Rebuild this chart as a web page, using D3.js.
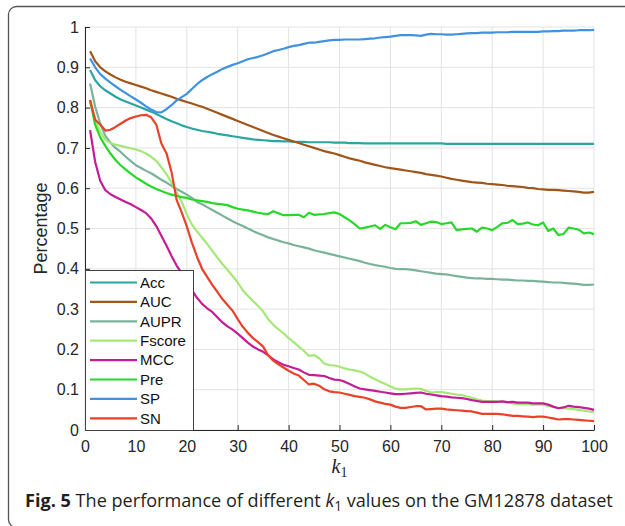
<!DOCTYPE html>
<html lang="en">
<head>
<meta charset="UTF-8">
<title>Performance of different k1 values on GM12878</title>
<script src="https://d3js.org/d3.v7.min.js"></script>
<style>
  body { margin: 0; background: #fff; }
  svg { display: block; }
  .tick text { font-family: "Liberation Sans", Arial, sans-serif; font-size: 16px; fill: #262626; }
  .axis path, .axis line { stroke: #262626; }
</style>
</head>
<body>
<div id="chart"></div>
<script>
// k1 runs from 1 to 100
const kValues = d3.range(1, 101);

const seriesNames = ["Acc", "AUC", "AUPR", "Fscore", "MCC", "Pre", "SP", "SN"];
const seriesColors = ["#2ca5a0", "#a0551a", "#7ab399", "#a6e878", "#c41c96", "#28d828", "#4191e1", "#eb4128"];

const acc = [0.893,0.868,0.853,0.843,0.835,0.827,0.820,0.815,0.810,0.805,
  0.800,0.795,0.790,0.784,0.778,0.772,0.766,0.761,0.756,0.752,
  0.748,0.745,0.742,0.740,0.738,0.735,0.733,0.731,0.729,0.727,
  0.725,0.723,0.721,0.720,0.719,0.718,0.717,0.717,0.716,0.716,
  0.715,0.715,0.715,0.714,0.714,0.714,0.714,0.714,0.713,0.713,
  0.713,0.712,0.712,0.712,0.711,0.711,0.711,0.711,0.711,0.711,
  0.711,0.711,0.711,0.711,0.711,0.711,0.711,0.711,0.711,0.711,
  0.710,0.710,0.710,0.710,0.710,0.710,0.710,0.710,0.710,0.710,
  0.710,0.710,0.710,0.710,0.710,0.710,0.710,0.710,0.710,0.710,
  0.710,0.710,0.710,0.710,0.710,0.710,0.710,0.710,0.710,0.710];

const auc = [0.940,0.915,0.900,0.890,0.882,0.875,0.869,0.864,0.860,0.856,
  0.852,0.848,0.843,0.839,0.835,0.831,0.827,0.822,0.818,0.814,
  0.810,0.806,0.802,0.797,0.792,0.787,0.782,0.777,0.772,0.767,
  0.762,0.757,0.752,0.747,0.742,0.737,0.732,0.728,0.724,0.720,
  0.716,0.712,0.708,0.704,0.700,0.696,0.692,0.689,0.686,0.682,
  0.678,0.674,0.671,0.668,0.664,0.661,0.658,0.655,0.652,0.650,
  0.648,0.646,0.644,0.642,0.640,0.638,0.635,0.633,0.631,0.629,
  0.626,0.623,0.621,0.619,0.617,0.615,0.614,0.613,0.611,0.610,
  0.609,0.608,0.606,0.605,0.604,0.603,0.601,0.600,0.598,0.597,
  0.596,0.596,0.595,0.594,0.593,0.592,0.591,0.589,0.589,0.591];

const aupr = [0.860,0.802,0.760,0.730,0.713,0.700,0.690,0.678,0.667,0.657,
  0.650,0.643,0.637,0.629,0.621,0.614,0.606,0.598,0.591,0.584,
  0.576,0.566,0.560,0.553,0.546,0.539,0.532,0.525,0.518,0.512,
  0.506,0.500,0.494,0.488,0.483,0.478,0.474,0.470,0.466,0.463,
  0.459,0.456,0.453,0.450,0.446,0.443,0.440,0.437,0.434,0.431,
  0.428,0.425,0.422,0.419,0.415,0.412,0.409,0.407,0.405,0.402,
  0.400,0.399,0.399,0.398,0.396,0.394,0.392,0.390,0.388,0.387,
  0.386,0.384,0.382,0.380,0.378,0.377,0.376,0.376,0.375,0.375,
  0.374,0.373,0.373,0.372,0.371,0.371,0.370,0.370,0.369,0.368,
  0.367,0.366,0.366,0.365,0.364,0.363,0.362,0.360,0.360,0.361];

const fscore = [0.812,0.770,0.740,0.720,0.712,0.708,0.705,0.702,0.699,0.696,
  0.692,0.686,0.678,0.668,0.652,0.635,0.614,0.590,0.566,0.535,
  0.510,0.493,0.477,0.462,0.445,0.428,0.412,0.397,0.382,0.366,
  0.347,0.333,0.320,0.308,0.294,0.275,0.261,0.250,0.240,0.228,
  0.218,0.207,0.196,0.184,0.186,0.178,0.165,0.161,0.160,0.157,
  0.153,0.150,0.148,0.145,0.140,0.132,0.126,0.120,0.114,0.108,
  0.103,0.101,0.101,0.102,0.103,0.102,0.097,0.093,0.094,0.094,
  0.092,0.090,0.088,0.087,0.083,0.080,0.076,0.073,0.072,0.072,
  0.071,0.070,0.068,0.066,0.064,0.064,0.064,0.063,0.063,0.063,
  0.060,0.057,0.055,0.054,0.053,0.052,0.050,0.048,0.046,0.044];

const mcc = [0.744,0.665,0.618,0.595,0.585,0.578,0.572,0.566,0.560,0.553,
  0.546,0.538,0.525,0.506,0.482,0.458,0.432,0.408,0.389,0.370,
  0.347,0.328,0.313,0.302,0.293,0.280,0.267,0.257,0.249,0.239,
  0.228,0.217,0.207,0.200,0.194,0.185,0.175,0.168,0.162,0.158,
  0.154,0.150,0.143,0.137,0.136,0.135,0.134,0.129,0.125,0.124,
  0.120,0.114,0.108,0.103,0.101,0.099,0.097,0.095,0.093,0.091,
  0.089,0.089,0.090,0.091,0.092,0.093,0.090,0.088,0.086,0.084,
  0.083,0.081,0.080,0.079,0.077,0.074,0.072,0.070,0.070,0.070,
  0.070,0.071,0.069,0.070,0.068,0.068,0.068,0.066,0.066,0.066,
  0.063,0.058,0.054,0.056,0.060,0.058,0.057,0.055,0.053,0.050];

const pre = [0.819,0.757,0.726,0.705,0.686,0.670,0.657,0.646,0.636,0.627,
  0.619,0.611,0.604,0.598,0.593,0.588,0.584,0.581,0.578,0.576,
  0.572,0.570,0.568,0.566,0.563,0.561,0.560,0.558,0.553,0.549,
  0.547,0.545,0.542,0.539,0.537,0.536,0.543,0.538,0.533,0.533,
  0.534,0.534,0.528,0.539,0.534,0.535,0.536,0.538,0.540,0.536,
  0.528,0.520,0.510,0.500,0.502,0.505,0.508,0.499,0.509,0.503,
  0.498,0.513,0.513,0.514,0.518,0.509,0.513,0.517,0.516,0.511,
  0.513,0.515,0.496,0.498,0.499,0.500,0.492,0.502,0.500,0.496,
  0.504,0.513,0.514,0.521,0.511,0.512,0.515,0.510,0.508,0.515,
  0.494,0.500,0.484,0.486,0.502,0.500,0.497,0.488,0.490,0.486];

const sp = [0.922,0.900,0.883,0.872,0.862,0.853,0.844,0.836,0.828,0.820,
  0.812,0.803,0.795,0.789,0.788,0.796,0.806,0.818,0.826,0.834,
  0.846,0.858,0.868,0.876,0.883,0.889,0.896,0.901,0.906,0.910,
  0.915,0.920,0.923,0.926,0.930,0.935,0.940,0.943,0.946,0.950,
  0.953,0.955,0.958,0.961,0.961,0.963,0.965,0.967,0.968,0.968,
  0.969,0.969,0.969,0.969,0.970,0.971,0.972,0.974,0.975,0.976,
  0.978,0.980,0.980,0.980,0.979,0.978,0.981,0.983,0.982,0.982,
  0.981,0.981,0.982,0.983,0.984,0.985,0.985,0.986,0.986,0.986,
  0.987,0.987,0.987,0.988,0.988,0.988,0.988,0.988,0.988,0.989,
  0.989,0.990,0.990,0.991,0.991,0.991,0.992,0.992,0.992,0.993];

const sn = [0.819,0.770,0.758,0.743,0.745,0.752,0.760,0.768,0.774,0.778,
  0.781,0.782,0.776,0.758,0.711,0.687,0.640,0.571,0.540,0.505,
  0.465,0.430,0.400,0.380,0.360,0.343,0.325,0.310,0.296,0.275,
  0.256,0.241,0.228,0.218,0.207,0.185,0.172,0.163,0.155,0.147,
  0.140,0.135,0.124,0.113,0.115,0.110,0.101,0.096,0.094,0.093,
  0.090,0.087,0.084,0.082,0.080,0.076,0.071,0.068,0.065,0.063,
  0.058,0.055,0.055,0.057,0.059,0.059,0.051,0.052,0.053,0.053,
  0.051,0.050,0.049,0.048,0.047,0.046,0.043,0.040,0.040,0.040,
  0.040,0.039,0.037,0.035,0.035,0.034,0.033,0.032,0.033,0.033,
  0.031,0.029,0.026,0.027,0.027,0.026,0.025,0.024,0.023,0.022];

const xTicks = [0, 10, 20, 30, 40, 50, 60, 70, 80, 90, 100];
const yTicks = [0, 0.1, 0.2, 0.3, 0.4, 0.5, 0.6, 0.7, 0.8, 0.9, 1];

const seriesValues = [acc, auc, aupr, fscore, mcc, pre, sp, sn];
const series = seriesNames.map((name, i) => ({ name, color: seriesColors[i], values: seriesValues[i] }));

const W = 625, H = 526;
const margin = { top: 27, right: 31, bottom: 96, left: 85 };
const plotW = W - margin.left - margin.right;
const plotH = H - margin.top - margin.bottom;

const svg = d3.select("#chart").append("svg")
  .attr("width", W)
  .attr("height", H);

// figure frame (rounded, runs off the right/bottom edge)
svg.append("rect")
  .attr("x", 8.5).attr("y", 6.5)
  .attr("width", 700).attr("height", 521)
  .attr("rx", 8)
  .attr("fill", "none")
  .attr("stroke", "#555")
  .attr("stroke-width", 1.3);

const g = svg.append("g")
  .attr("transform", `translate(${margin.left},${margin.top})`);

const x = d3.scaleLinear().domain([0, 100]).range([0, plotW]);
const y = d3.scaleLinear().domain([0, 1]).range([plotH, 0]);

// grid
g.append("g").selectAll("line").data(xTicks).enter().append("line")
  .attr("x1", d => x(d)).attr("x2", d => x(d))
  .attr("y1", 0).attr("y2", plotH)
  .attr("stroke", "#e3e3e3").attr("stroke-width", 1);
g.append("g").selectAll("line").data(yTicks).enter().append("line")
  .attr("x1", 0).attr("x2", plotW)
  .attr("y1", d => y(d)).attr("y2", d => y(d))
  .attr("stroke", "#e3e3e3").attr("stroke-width", 1);

// axes, ticks point inward like matlab
g.append("g")
  .attr("class", "axis")
  .attr("transform", `translate(0,${plotH})`)
  .call(d3.axisBottom(x).tickValues(xTicks).tickSizeInner(-5).tickSizeOuter(0).tickPadding(11));

g.append("g")
  .attr("class", "axis")
  .call(d3.axisLeft(y).tickValues(yTicks).tickFormat(d3.format("~g")).tickSizeInner(-5).tickSizeOuter(0).tickPadding(6));

// lines
const line = d3.line()
  .x((d, i) => x(kValues[i]))
  .y(d => y(d));

g.selectAll(".series")
  .data(series)
  .enter().append("path")
  .attr("class", "series")
  .attr("d", d => line(d.values))
  .attr("fill", "none")
  .attr("stroke", d => d.color)
  .attr("stroke-width", 2.2)
  .attr("stroke-linejoin", "round");

// legend in the lower left corner
const legend = g.append("g").attr("transform", `translate(0,${plotH - 160})`);
legend.append("rect")
  .attr("x", 0.5).attr("y", 0.5)
  .attr("width", 108).attr("height", 160)
  .attr("fill", "#fff")
  .attr("stroke", "#404040")
  .attr("stroke-width", 1);

const item = legend.selectAll(".item")
  .data(series)
  .enter().append("g")
  .attr("transform", (d, i) => `translate(0,${12.5 + i * 19.4})`);
item.append("line")
  .attr("x1", 5).attr("x2", 52)
  .attr("stroke", d => d.color)
  .attr("stroke-width", 2.2);
item.append("text")
  .attr("x", 55)
  .attr("dy", "0.35em")
  .attr("font-family", "'Liberation Sans', Arial, sans-serif")
  .attr("font-size", 15)
  .attr("fill", "#111")
  .text(d => d.name);

// axis titles
g.append("text")
  .attr("transform", `translate(${41 - margin.left},${228.5 - margin.top}) rotate(-90)`)
  .attr("text-anchor", "middle")
  .attr("dy", "0.35em")
  .attr("font-family", "'Liberation Sans', Arial, sans-serif")
  .attr("font-size", 18)
  .attr("fill", "#262626")
  .text("Percentage");

const xl = g.append("text")
  .attr("x", x(50))
  .attr("y", 473 - margin.top)
  .attr("text-anchor", "middle")
  .attr("font-family", "'Liberation Serif', 'DejaVu Serif', serif")
  .attr("fill", "#262626");
xl.append("tspan").attr("font-style", "italic").attr("font-size", 20).text("k");
xl.append("tspan").attr("font-size", 14).attr("dy", 4).text("1");

// caption
const cap = svg.append("text")
  .attr("x", 25)
  .attr("y", 507)
  .attr("font-family", "'Open Sans', 'Noto Sans', sans-serif")
  .attr("font-size", 17)
  .attr("fill", "#231f20");
cap.append("tspan").attr("font-weight", "bold").text("Fig. 5");
cap.append("tspan").text(" The performance of different ");
cap.append("tspan").attr("font-style", "italic").text("k");
cap.append("tspan").attr("font-size", "0.75em").attr("dy", 4).text("1");
cap.append("tspan").attr("dy", -4).text(" values on the GM12878 dataset");

// stretch caption to the width it has in the figure
const capLen = cap.node().getComputedTextLength();
cap.attr("font-size", 17 * 588 / capLen);
</script>
</body>
</html>
